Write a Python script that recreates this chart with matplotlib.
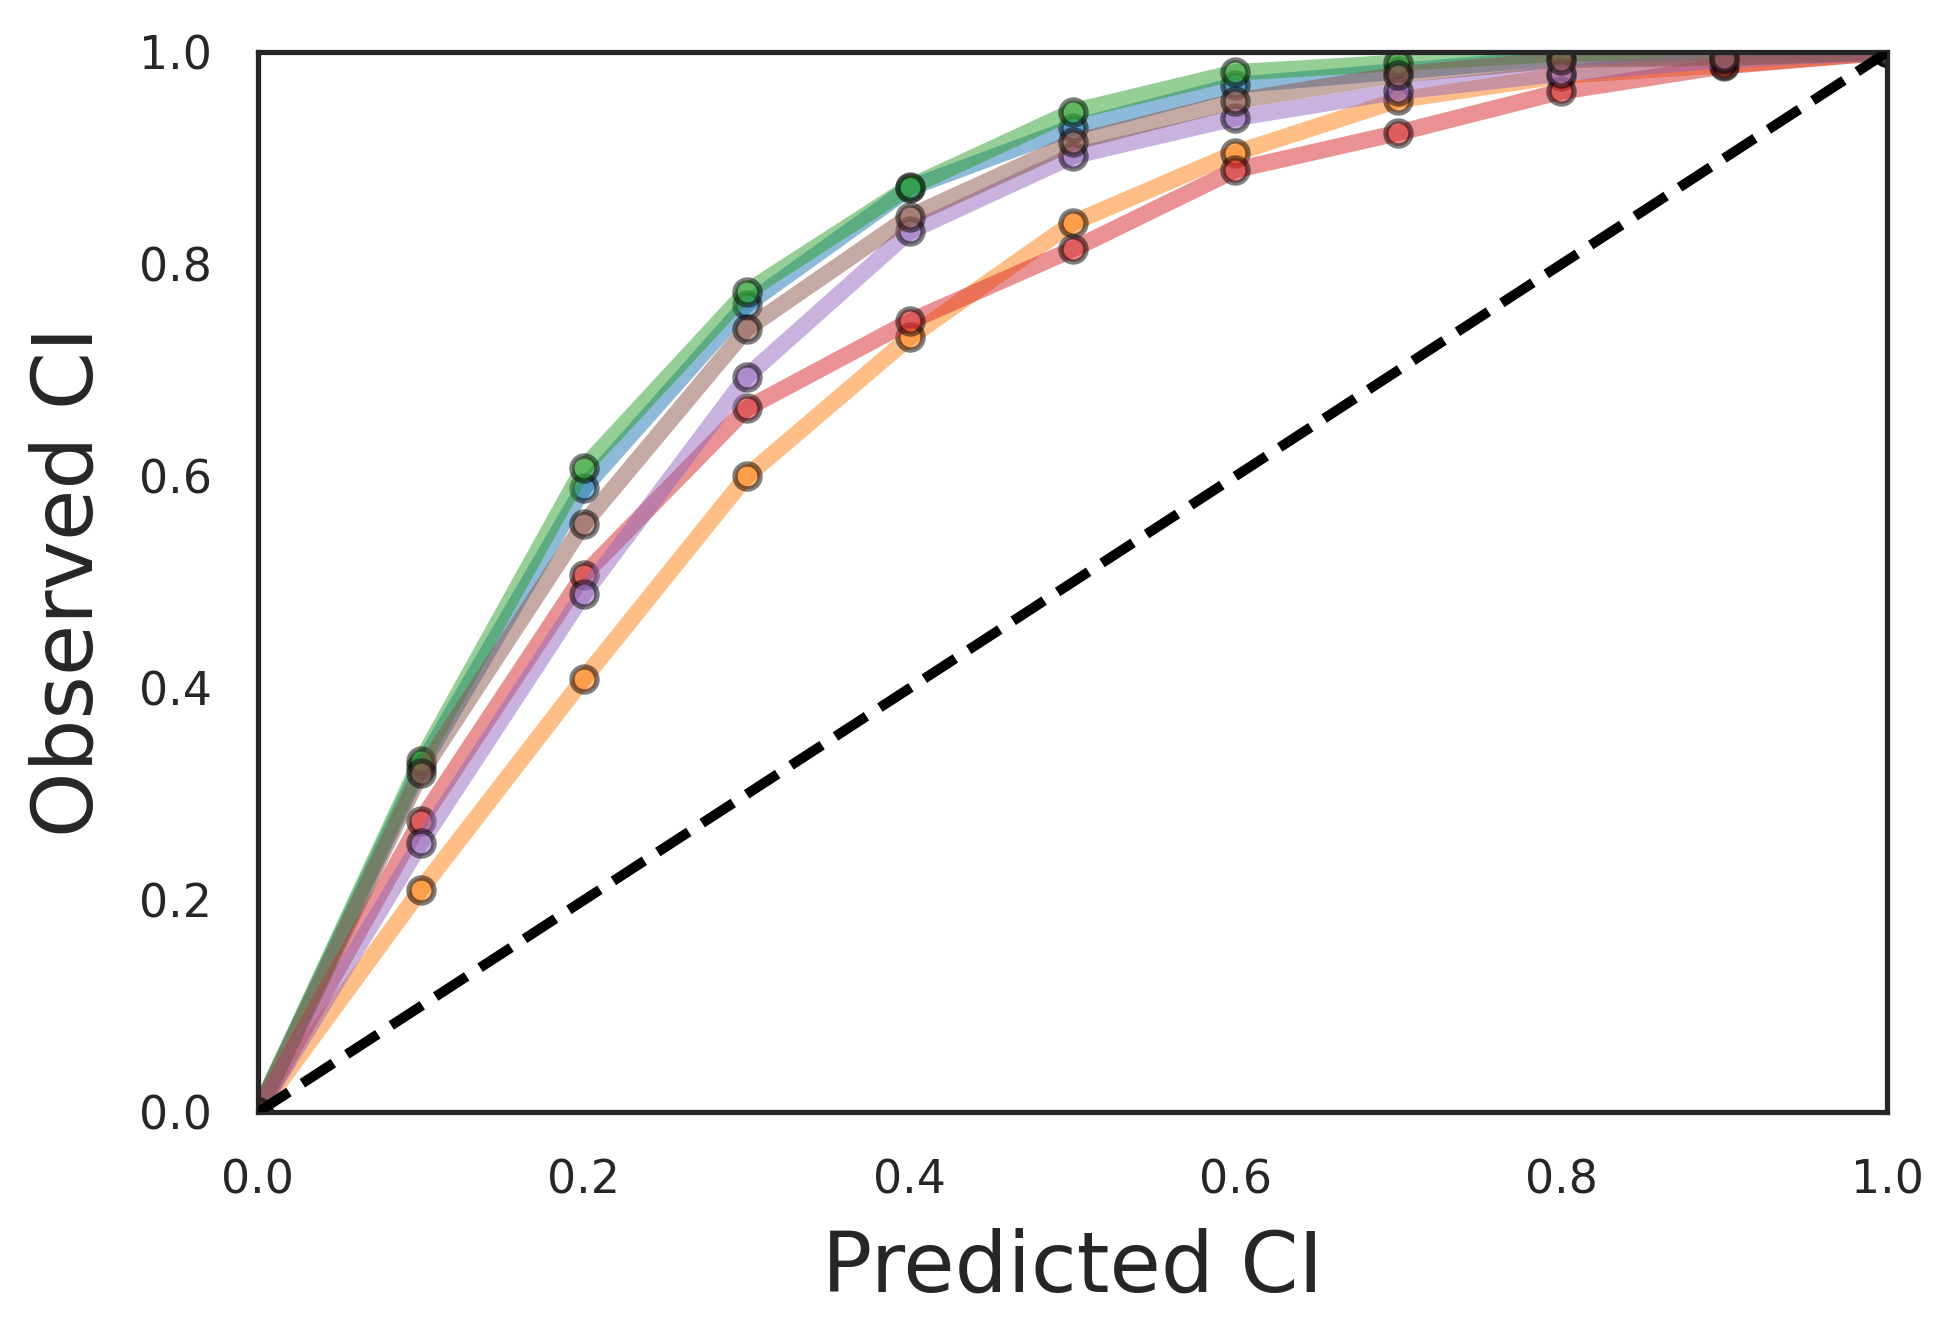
import numpy as np
import matplotlib
matplotlib.use("Agg")
import matplotlib.pyplot as plt
import seaborn as sns

sns.set_style("white")

# predicted confidence levels
predicted = [0.0, 0.1, 0.2, 0.3, 0.4, 0.5, 0.6, 0.7, 0.8, 0.9, 1.0]

# observed fraction inside the interval, one list per model (tab10 order)
obs_blue   = [0.0, 0.326, 0.589, 0.762, 0.872, 0.929, 0.969, 0.982, 0.995, 0.996, 1.0]
obs_orange = [0.0, 0.210, 0.409, 0.600, 0.731, 0.839, 0.905, 0.955, 0.978, 0.988, 1.0]
obs_green  = [0.0, 0.331, 0.608, 0.774, 0.873, 0.944, 0.981, 0.990, 0.999, 1.0, 1.0]
obs_red    = [0.0, 0.275, 0.507, 0.664, 0.746, 0.814, 0.889, 0.924, 0.963, 0.987, 1.0]
obs_purple = [0.0, 0.254, 0.489, 0.694, 0.831, 0.902, 0.938, 0.963, 0.980, 0.993, 1.0]
obs_brown  = [0.0, 0.320, 0.555, 0.739, 0.845, 0.915, 0.954, 0.979, 0.993, 0.995, 1.0]

series = [obs_blue, obs_orange, obs_green, obs_red, obs_purple, obs_brown]

fig = plt.figure(figsize=(1960/300, 1340/300), dpi=300)
ax = fig.add_axes([0.1316, 0.170, 0.8312, 0.791])

for i, obs in enumerate(series):
    ax.plot(predicted, obs, color="C%d" % i, lw=4, alpha=0.5,
            marker="o", ms=6, mec="k", mew=1.3)

ax.plot([0, 1], [0, 1], "k--", lw=2.4, zorder=5)

for sp in ax.spines.values():
    sp.set_linewidth(1.25)

ax.set_xlim(0, 1)
ax.set_ylim(0, 1)
ax.tick_params(axis="both", length=0, pad=11, labelsize=11)
ax.set_xlabel("Predicted CI", fontsize=20, labelpad=6)
ax.set_ylabel("Observed CI", fontsize=20, labelpad=7)

fig.savefig("out.png", dpi=300)
